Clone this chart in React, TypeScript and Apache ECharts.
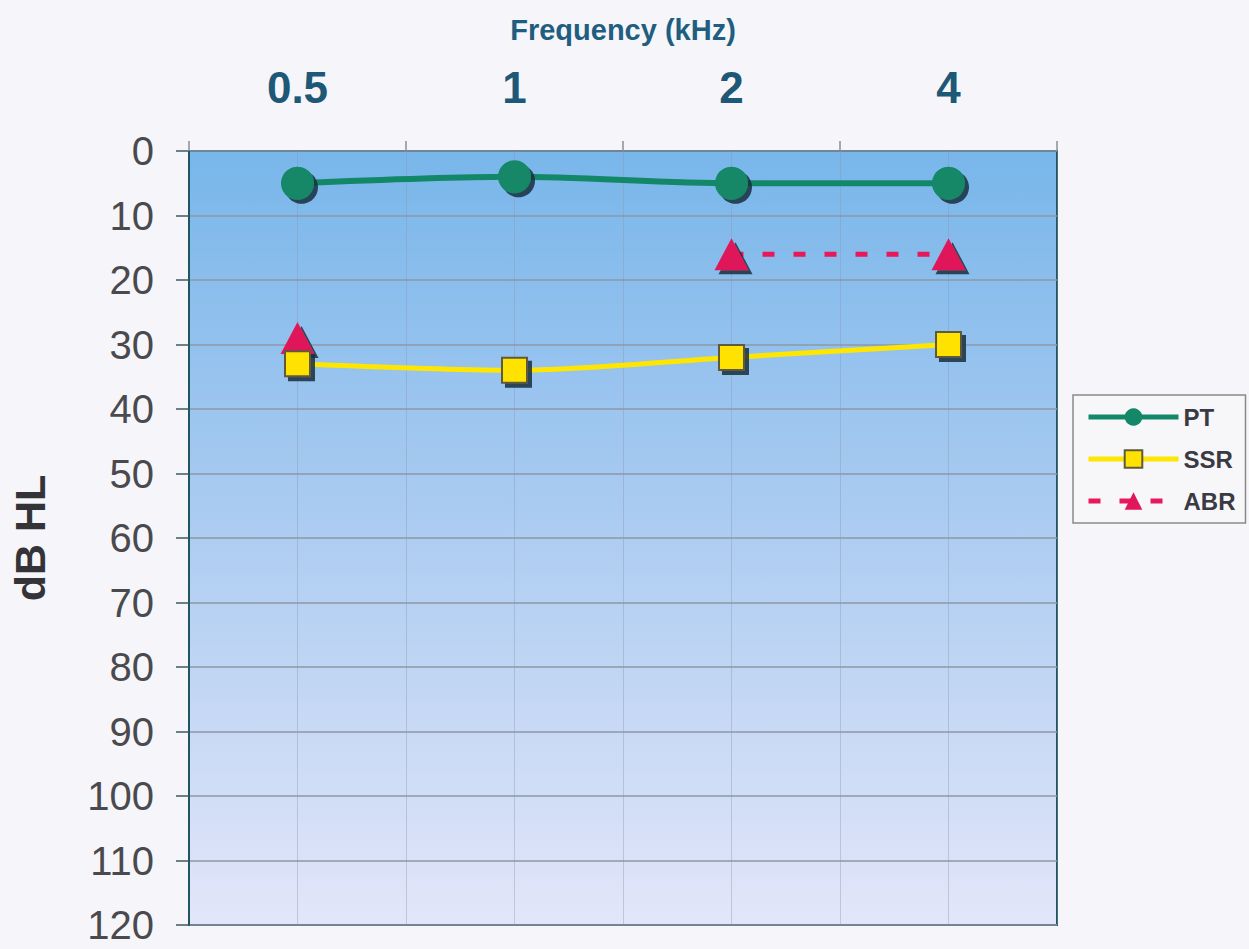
import React, { useEffect, useRef } from "react";
import * as echarts from "echarts";

// Audiogram thresholds (dB HL) per test frequency
const frequencies = ["0.5", "1", "2", "4"];
const ptValues = [5, 4, 5, 5];
const ssrValues = [33, 34, 32, 30];
const abrValues: (number | null)[] = [29, null, 16, 16];
const yTicks = { min: 0, max: 120, interval: 10 };

const FONT = "Liberation Sans, Arial, sans-serif";

const markerShadow = {
  shadowColor: "rgba(25,45,60,0.85)",
  shadowBlur: 0,
  shadowOffsetX: 4,
  shadowOffsetY: 4,
};

export default function App() {
  const ref = useRef<HTMLDivElement>(null);

  useEffect(() => {
    document.body.style.margin = "0";
    const chart = echarts.init(ref.current!, null, { renderer: "svg" });
    chart.setOption({
      animation: false,
      backgroundColor: "#f6f6fa",
      grid: {
        left: 186,
        right: 192,
        top: 151,
        bottom: 24,
        show: true,
        borderColor: "#1f5660",
        borderWidth: 2,
        backgroundColor: new echarts.graphic.LinearGradient(0, 0, 0, 1, [
          { offset: 0, color: "#78b6ea" },
          { offset: 0.4, color: "#a3c8f0" },
          { offset: 1, color: "#e3e6f9" },
        ]),
      },
      legend: {
        orient: "vertical",
        left: 1073,
        top: 395,
        width: 174,
        padding: [10, 10, 10, 13],
        itemGap: 18,
        itemWidth: 90,
        itemHeight: 22,
        backgroundColor: "#f7f7fa",
        borderColor: "#8a8a8a",
        borderWidth: 1.5,
        lineStyle: { width: 5 },
        itemStyle: { shadowColor: "transparent", shadowOffsetX: 0, shadowOffsetY: 0 },
        textStyle: {
          fontFamily: FONT,
          fontWeight: "bold",
          fontSize: 24,
          color: "#3a3a44",
        },
        data: ["PT", "SSR", "ABR"],
      },
      xAxis: [
        {
          type: "category",
          position: "top",
          data: frequencies,
          boundaryGap: true,
          name: "Frequency (kHz)",
          nameLocation: "middle",
          nameGap: 107,
          nameTextStyle: {
            fontFamily: FONT,
            fontWeight: "bold",
            fontSize: 29,
            color: "#1f5e80",
          },
          axisLine: { show: false },
          axisTick: {
            show: true,
            inside: false,
            length: 10,
            alignWithLabel: false,
            lineStyle: { color: "#8a8f96", width: 1.5 },
          },
          axisLabel: {
            margin: 42,
            fontFamily: FONT,
            fontWeight: "bold",
            fontSize: 44,
            color: "#1d5877",
          },
          splitLine: { show: false },
        },
        {
          // half-category grid lines
          type: "value",
          min: 0,
          max: 8,
          interval: 1,
          position: "bottom",
          show: true,
          axisLine: { show: false },
          axisTick: { show: false },
          axisLabel: { show: false },
          splitLine: { show: true, lineStyle: { color: "rgba(140,150,175,0.4)", width: 1 } },
        },
      ],
      yAxis: {
        type: "value",
        inverse: true,
        min: yTicks.min,
        max: yTicks.max,
        interval: yTicks.interval,
        name: "dB HL",
        nameLocation: "middle",
        nameGap: 138,
        nameRotate: 90,
        nameTextStyle: {
          fontFamily: FONT,
          fontWeight: "bold",
          fontSize: 43,
          color: "#333338",
        },
        axisLine: { show: true, lineStyle: { color: "#1f5660", width: 2 } },
        axisTick: { show: true, inside: false, length: 13, lineStyle: { color: "#3d5a60", width: 1.5 } },
        axisLabel: {
          margin: 35,
          fontFamily: FONT,
          fontSize: 40,
          lineHeight: 30,
          color: "#4a4a4e",
        },
        splitLine: { show: true, lineStyle: { color: "#8d97a6", width: 1.5 } },
      },
      series: [
        {
          name: "PT",
          type: "line",
          xAxisIndex: 0,
          data: ptValues,
          smooth: 0.3,
          symbol: "circle",
          symbolSize: 33,
          z: 4,
          lineStyle: { color: "#128868", width: 6 },
          itemStyle: { color: "#128868", ...markerShadow },
        },
        {
          name: "SSR",
          type: "line",
          xAxisIndex: 0,
          data: ssrValues,
          smooth: 0.3,
          symbol: "rect",
          symbolSize: 25,
          z: 3,
          lineStyle: { color: "#ffe600", width: 5 },
          itemStyle: { color: "#ffe200", borderColor: "#5e5a3c", borderWidth: 2, ...markerShadow },
        },
        {
          name: "ABR",
          type: "line",
          xAxisIndex: 0,
          data: abrValues,
          connectNulls: false,
          symbol: "triangle",
          symbolSize: [34, 32],
          z: 2,
          lineStyle: { color: "#e8185a", width: 5, type: [12, 19] },
          itemStyle: { color: "#e0185a", ...markerShadow },
        },
      ],
    });
    return () => chart.dispose();
  }, []);

  return <div ref={ref} style={{ width: 1249, height: 949 }} />;
}
